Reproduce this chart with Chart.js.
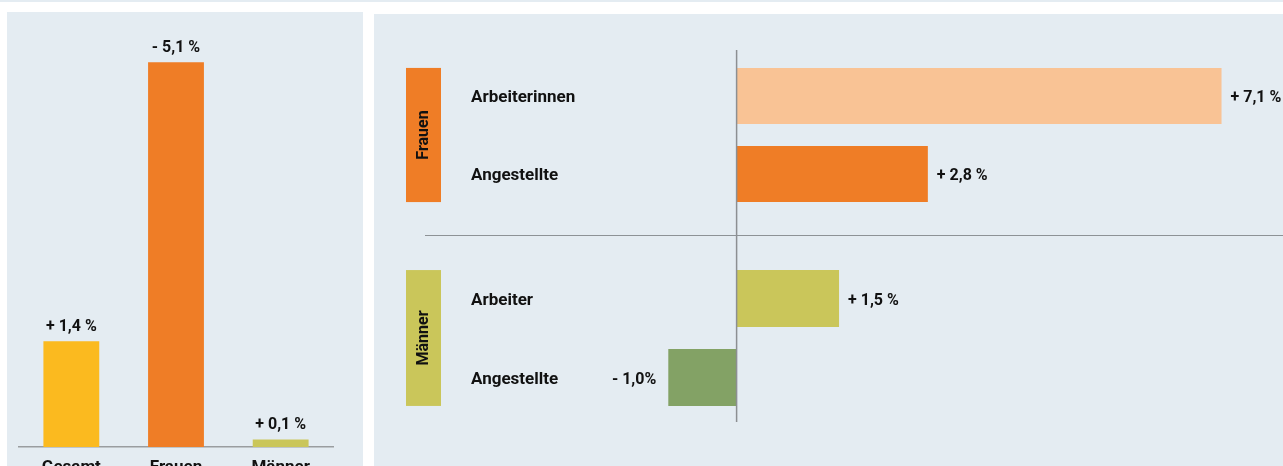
<!DOCTYPE html>
<html>
<head>
<meta charset="utf-8">
<script src="https://cdn.jsdelivr.net/npm/chart.js@4.4.1/dist/chart.umd.min.js"></script>
<style>
    html, body { margin: 0; padding: 0; background: #fff; }
    body { width: 1283px; height: 466px; position: relative; overflow: hidden; font-family: Roboto, sans-serif; }
    #topline { position: absolute; left: 0; top: 0; width: 1283px; height: 2px; background: #e4ecf2; }
    #left-panel { position: absolute; left: 7px; top: 12px; width: 356px; height: 454px; background: #e4ecf2; }
    #right-panel { position: absolute; left: 374px; top: 14px; width: 909px; height: 452px; background: #e4ecf2; }
    #right-panel canvas { position: absolute; left: 0; }
    #women-chart { top: 0; }
    #men-chart { top: 222px; }
    #separator { position: absolute; left: 51px; top: 221px; width: 858px; height: 1px; background: #8d9296; }
</style>
</head>
<body>
<div id="topline"></div>
<div id="left-panel">
    <canvas id="overview-chart" width="356" height="454"></canvas>
</div>
<div id="right-panel">
    <canvas id="women-chart" width="909" height="222"></canvas>
    <div id="separator"></div>
    <canvas id="men-chart" width="909" height="230"></canvas>
</div>
<script>
// Overview: change overall / women / men
const overviewLabels = ['Gesamt', 'Frauen', 'Männer'];
const overviewValues = [1.4, -5.1, 0.1];
const overviewText = ['+ 1,4 %', '- 5,1 %', '+ 0,1 %'];
const overviewColors = ['#fbba1f', '#ef7d26', '#cac65a'];

// Women by job type
const womenLabels = ['Arbeiterinnen', 'Angestellte'];
const womenValues = [7.1, 2.8];
const womenText = ['+ 7,1 %', '+ 2,8 %'];
const womenColors = ['#f9c395', '#ef7d26'];

// Men by job type
const menLabels = ['Arbeiter', 'Angestellte'];
const menValues = [1.5, -1.0];
const menText = ['+ 1,5 %', '- 1,0%'];
const menColors = ['#cac65a', '#83a265'];

const textColor = '#111';
const boldFont = (size) => `bold ${size}px Roboto, sans-serif`;

Chart.defaults.animation = false;
Chart.defaults.plugins.legend.display = false;
Chart.defaults.plugins.tooltip.enabled = false;

// labels above the vertical bars
const columnLabels = {
    id: 'columnLabels',
    afterDatasetsDraw(chart) {
        const ctx = chart.ctx;
        ctx.save();
        ctx.font = boldFont(16);
        ctx.fillStyle = textColor;
        ctx.textAlign = 'center';
        ctx.textBaseline = 'middle';
        chart.getDatasetMeta(0).data.forEach((bar, i) => {
            ctx.fillText(overviewText[i], bar.x, bar.y - 14);
        });
        ctx.restore();
    }
};

// zero line, value labels and the coloured group tag for the horizontal charts
function groupPlugin(groupName, groupColor, texts, lineTop, lineBottom) {
    return {
        id: 'group_' + groupName,
        afterDatasetsDraw(chart) {
            const ctx = chart.ctx;
            const bars = chart.getDatasetMeta(0).data;
            const zeroX = chart.scales.x.getPixelForValue(0);
            ctx.save();

            // zero line
            ctx.strokeStyle = '#8c8f92';
            ctx.lineWidth = 1.5;
            ctx.beginPath();
            ctx.moveTo(zeroX, lineTop);
            ctx.lineTo(zeroX, lineBottom);
            ctx.stroke();

            // value labels
            ctx.font = boldFont(16);
            ctx.fillStyle = textColor;
            ctx.textBaseline = 'middle';
            bars.forEach((bar, i) => {
                const v = chart.data.datasets[0].data[i];
                if (v >= 0) {
                    ctx.textAlign = 'left';
                    ctx.fillText(texts[i], bar.x + 9, bar.y + 2);
                } else {
                    ctx.textAlign = 'right';
                    ctx.fillText(texts[i], bar.x - 12, bar.y + 2);
                }
            });

            // group tag
            const top = bars[0].y - bars[0].height / 2;
            const bottom = bars[bars.length - 1].y + bars[bars.length - 1].height / 2;
            ctx.fillStyle = groupColor;
            ctx.fillRect(32, top, 35, bottom - top);
            ctx.translate(50, (top + bottom) / 2);
            ctx.rotate(-Math.PI / 2);
            ctx.fillStyle = textColor;
            ctx.textAlign = 'center';
            ctx.font = boldFont(16);
            ctx.fillText(groupName, 0, 0);
            ctx.restore();
        }
    };
}

function horizontalConfig(labels, values, colors, pad) {
    return {
        type: 'bar',
        data: {
            labels: labels,
            datasets: [{
                data: values,
                backgroundColor: colors,
                barPercentage: 0.9,
                categoryPercentage: 0.8
            }]
        },
        options: {
            indexAxis: 'y',
            responsive: false,
            layout: { padding: { left: 97, right: 0, top: pad.top, bottom: pad.bottom } },
            scales: {
                x: { display: false, min: -2, max: 8 },
                y: {
                    grid: { display: false },
                    border: { display: false },
                    ticks: {
                        crossAlign: 'far',
                        labelOffset: 2,
                        font: { size: 17, weight: 'bold', family: 'Roboto' },
                        color: textColor
                    },
                    afterFit: (scale) => { scale.width = 129; }
                }
            }
        }
    };
}

function initCharts() {
    // Overview chart
    const ctx1 = document.getElementById('overview-chart').getContext('2d');
    new Chart(ctx1, {
        type: 'bar',
        data: {
            labels: overviewLabels,
            datasets: [{
                data: overviewValues.map(Math.abs),
                backgroundColor: overviewColors,
                barPercentage: 0.667,
                categoryPercentage: 0.8
            }]
        },
        options: {
            responsive: false,
            layout: { padding: { top: 20, left: 12, right: 30, bottom: 0 } },
            scales: {
                y: { display: false, min: 0, max: 5.5 },
                x: {
                    grid: { display: false, drawTicks: false },
                    border: { color: '#9a9da0', width: 1.5 },
                    ticks: { font: { size: 17, weight: 'bold', family: 'Roboto' }, color: textColor, padding: 11 },
                    afterFit: (scale) => { scale.height = 19; }
                }
            }
        },
        plugins: [columnLabels]
    });

    // Women chart
    const ctx2 = document.getElementById('women-chart').getContext('2d');
    const women = horizontalConfig(womenLabels, womenValues, womenColors, { top: 43, bottom: 23 });
    women.plugins = [groupPlugin('Frauen', '#ef7d26', womenText, 36, 222)];
    new Chart(ctx2, women);

    // Men chart
    const ctx3 = document.getElementById('men-chart').getContext('2d');
    const men = horizontalConfig(menLabels, menValues, menColors, { top: 23, bottom: 49 });
    men.plugins = [groupPlugin('Männer', '#cac65a', menText, 0, 186)];
    new Chart(ctx3, men);
}

initCharts();
</script>
</body>
</html>
